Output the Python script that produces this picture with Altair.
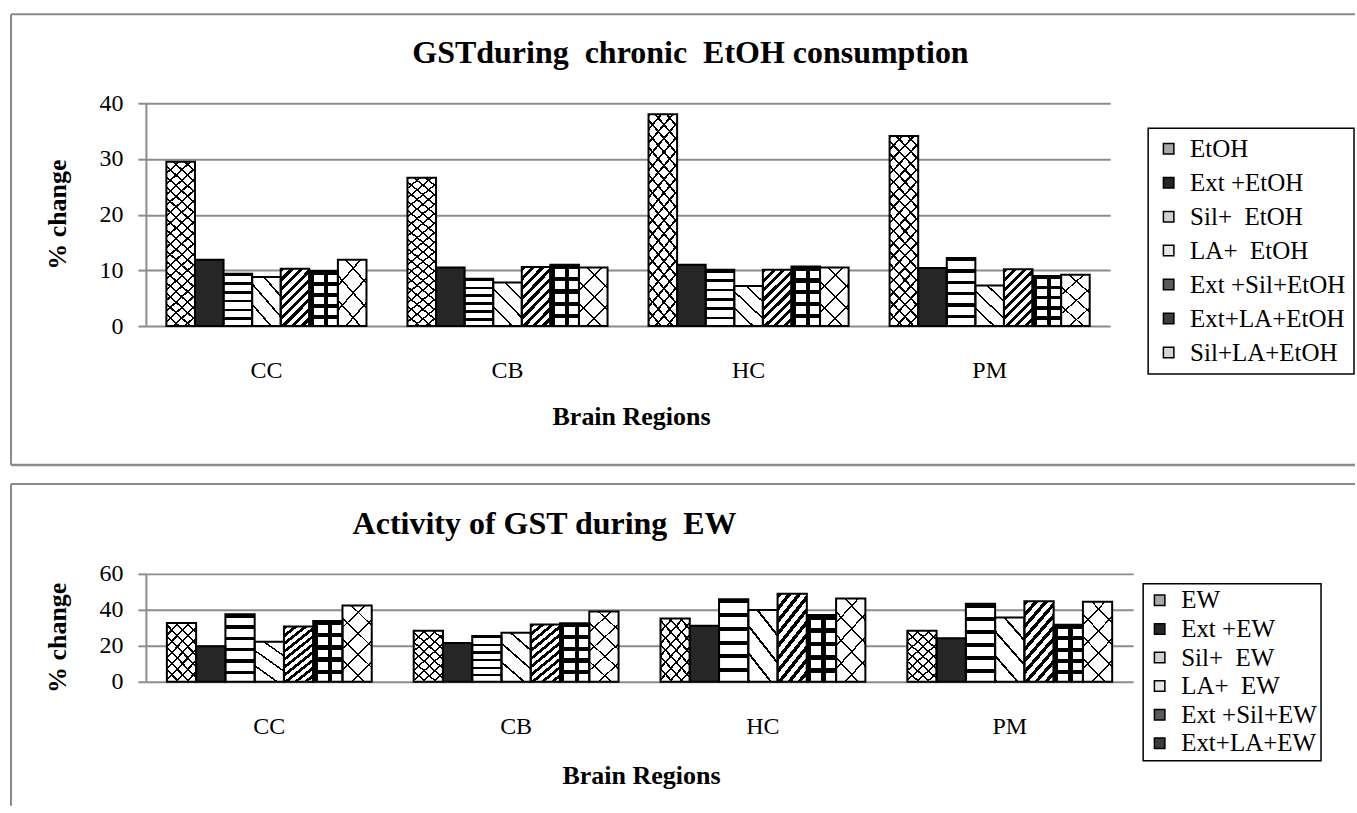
import altair as alt
import pandas as pd

FONT = "Liberation Serif"
NB = "\u00a0"
FRAME = "#8a8a8a"
GRID = "#8c8c8c"

regions = ["CC", "CB", "HC", "PM"]

# ---- top panel: GST during chronic EtOH consumption ----
series_top = ["EtOH", "Ext +EtOH", "Sil+" + NB + " EtOH", "LA+" + NB + " EtOH",
              "Ext +Sil+EtOH", "Ext+LA+EtOH", "Sil+LA+EtOH"]
etoh = [29.5, 26.6, 38.0, 34.1]
ext_etoh = [11.9, 10.5, 11.0, 10.4]
sil_etoh = [9.4, 8.5, 10.1, 12.2]
la_etoh = [8.8, 7.8, 7.2, 7.3]
ext_sil_etoh = [10.3, 10.6, 10.1, 10.2]
ext_la_etoh = [9.9, 11.0, 10.7, 9.0]
sil_la_etoh = [11.9, 10.5, 10.5, 9.2]
top_values = [etoh, ext_etoh, sil_etoh, la_etoh, ext_sil_etoh, ext_la_etoh, sil_la_etoh]

# ---- bottom panel: Activity of GST during EW ----
series_bot = ["EW", "Ext +EW", "Sil+" + NB + " EW", "LA+" + NB + " EW",
              "Ext +Sil+EW", "Ext+LA+EW", "Sil+LA+EW"]
ew = [32.7, 28.4, 35.2, 28.4]
ext_ew = [19.7, 21.6, 31.2, 24.2]
sil_ew = [37.6, 25.5, 45.9, 43.4]
la_ew = [22.3, 27.3, 39.9, 35.8]
ext_sil_ew = [30.8, 31.9, 48.9, 44.8]
ext_la_ew = [33.8, 32.5, 37.1, 31.7]
sil_la_ew = [42.4, 39.1, 46.3, 44.5]
bot_values = [ew, ext_ew, sil_ew, la_ew, ext_sil_ew, ext_la_ew, sil_la_ew]

legend_colors = ["#a8a8a8", "#262626", "#d0d0d0", "#e6e6e6", "#5a5a5a", "#3c3c3c", "#d6d6d6"]


def build_df(series, values):
    rows = []
    for s, vals in zip(series, values):
        for r, v in zip(regions, vals):
            rows.append({"region": r, "series": s, "value": v})
    return pd.DataFrame(rows)


def grad(direction, n, frac, aspect=0.5, ink="#000000", paper="#ffffff"):
    if direction == "h":
        x1, y1, x2, y2 = 0, 0, 0, 1
    elif direction == "v":
        x1, y1, x2, y2 = 0, 0, 1, 0
    else:
        k = (1 + aspect) / (aspect ** 2 + 1)
        dx, dy = k * aspect, k
        if direction == "/":
            x1, y1, x2, y2 = 0, 0, dx, dy
        else:
            x1, y1, x2, y2 = 0, 1, dx, 1 - dy
    stops = []
    for i in range(n):
        a = round(i / n, 5)
        b = round((i + frac) / n, 5)
        c = round((i + 1) / n, 5)
        stops += [{"offset": a, "color": ink}, {"offset": b, "color": ink},
                  {"offset": b, "color": paper}, {"offset": c, "color": paper}]
    return {"gradient": "linear", "x1": round(x1, 5), "y1": round(y1, 5),
            "x2": round(x2, 5), "y2": round(y2, 5), "stops": stops}


CLEAR = "rgba(0,0,0,0)"

pats_top = [
    [grad("/", 18, 0.2, 0.16), grad("\\", 18, 0.2, 0.16, paper=CLEAR)],
    [],
    [grad("h", 6, 0.3)],
    [grad("\\", 4, 0.12, 0.67)],
    [grad("/", 9, 0.45, 0.5)],
    [grad("h", 5, 0.35), grad("v", 2, 0.3, paper=CLEAR)],
    [grad("/", 4, 0.09, 0.49), grad("\\", 4, 0.09, 0.49, paper=CLEAR)],
]
pats_bot = [
    [grad("/", 8, 0.2, 0.52), grad("\\", 8, 0.2, 0.52, paper=CLEAR)],
    [],
    [grad("h", 6, 0.3)],
    [grad("\\", 4, 0.12, 0.52)],
    [grad("/", 10, 0.45, 0.42)],
    [grad("h", 5, 0.35), grad("v", 2, 0.3, paper=CLEAR)],
    [grad("/", 5, 0.09, 0.38), grad("\\", 5, 0.09, 0.38, paper=CLEAR)],
]

one = pd.DataFrame({"a": [0]})


def hrule(x, x2, y, color=FRAME, w=2):
    return alt.Chart(one).mark_rule(color=color, strokeWidth=w).encode(
        x=alt.value(x), x2=alt.value(x2), y=alt.value(y))


def vrule(x, y, y2, color=FRAME, w=2):
    return alt.Chart(one).mark_rule(color=color, strokeWidth=w).encode(
        x=alt.value(x), y=alt.value(y), y2=alt.value(y2))


def bold_text(text, x, y, size, angle=0):
    return alt.Chart(pd.DataFrame({"t": [text]})).mark_text(
        font=FONT, fontSize=size, fontWeight="bold", baseline="alphabetic",
        align="center", color="black", angle=angle).encode(
        text="t:N", x=alt.value(x), y=alt.value(y))


def panel(df, series, legend_vals, ymax, yticks, w, h, title, title_x,
          pats, leg_x, leg_y, leg_font, leg_rowpad, leg_pad,
          xlab_pad, xtitle_x, xtitle_y, ytitle_y, frames):
    xenc = alt.X("region:N", sort=regions,
                 scale=alt.Scale(domain=regions, paddingInner=0.17, paddingOuter=0.085),
                 axis=alt.Axis(title=None, labelAngle=0, ticks=False, tickSize=0,
                               domain=False, grid=False, labelPadding=xlab_pad,
                               labelBaseline="alphabetic"))
    xoff = alt.XOffset("series:N", sort=series,
                       scale=alt.Scale(domain=series, paddingInner=0, paddingOuter=0))
    yenc = alt.Y("value:Q", scale=alt.Scale(domain=[0, ymax], nice=False, zero=True),
                 axis=alt.Axis(title=None, values=yticks, tickSize=8, labelPadding=15,
                               grid=True))
    legend = alt.Legend(orient="none", legendX=leg_x, legendY=leg_y, direction="vertical",
                        title=None, values=legend_vals, symbolType="square", symbolSize=110,
                        symbolStrokeColor="black", symbolStrokeWidth=1.5,
                        labelFont=FONT, labelFontSize=leg_font, labelColor="black",
                        labelOffset=9, rowPadding=leg_rowpad, padding=leg_pad,
                        strokeColor="black")
    base = alt.Chart(df).mark_bar(strokeWidth=0).encode(
        x=xenc, xOffset=xoff, y=yenc,
        color=alt.Color("series:N", sort=series,
                        scale=alt.Scale(domain=series, range=legend_colors),
                        legend=legend))
    layers = [base]
    for s, plist in zip(series, pats):
        for g in plist:
            layers.append(
                alt.Chart(df).transform_filter(alt.datum.series == s)
                .mark_bar(fill=g, strokeWidth=0)
                .encode(x=xenc, xOffset=xoff, y=yenc))
    layers.append(alt.Chart(df).mark_bar(fillOpacity=0, stroke="black", strokeWidth=2)
                  .encode(x=xenc, xOffset=xoff, y=yenc))
    layers += frames
    layers.append(bold_text(title, title_x, -40, 32))
    layers.append(bold_text("Brain Regions", xtitle_x, h + xtitle_y, 26))
    layers.append(bold_text("% change", -80, ytitle_y, 26, angle=270))
    return alt.layer(*layers).properties(width=w, height=h)


df_top = build_df(series_top, top_values)
df_bot = build_df(series_bot, bot_values)

frames_top = [
    hrule(-135, 1210, -89),
    vrule(-135, -89, 362),
    hrule(-135, 1210, 362, w=2.5),
]
frames_bot = [
    hrule(-135, 1210, -90),
    vrule(-135, -90, 232),
]

top = panel(df_top, series_top, series_top, 40, [0, 10, 20, 30, 40], 965, 223,
            "GSTduring" + NB + " chronic" + NB + " EtOH consumption", 545,
            pats_top, 1003, 25, 25, 8, 8,
            51, 486, 99, 111.5, frames_top)
bottom = panel(df_bot, series_bot, series_bot[:6], 60, [0, 20, 40, 60], 988, 108,
               "Activity of GST during" + NB + " EW", 399,
               pats_bot, 998, 10, 25, 2.6, 4,
               52, 496, 102, 64, frames_bot)

chart = alt.vconcat(top, bottom, spacing=248, bounds="flush").resolve_scale(
    color="independent", x="independent", y="independent", xOffset="independent"
).properties(
    padding={"left": 9, "top": 12, "right": 0, "bottom": 0}
).configure_view(
    stroke="transparent"
).configure_axis(
    labelFont=FONT, labelFontSize=24, labelColor="black",
    gridColor=GRID, gridWidth=2, domainColor=GRID, domainWidth=2,
    tickColor=GRID, tickWidth=2
).configure_legend(
    strokeWidth=1.5
)

chart.save("out.html", embed_options={"renderer": "svg", "actions": False})
